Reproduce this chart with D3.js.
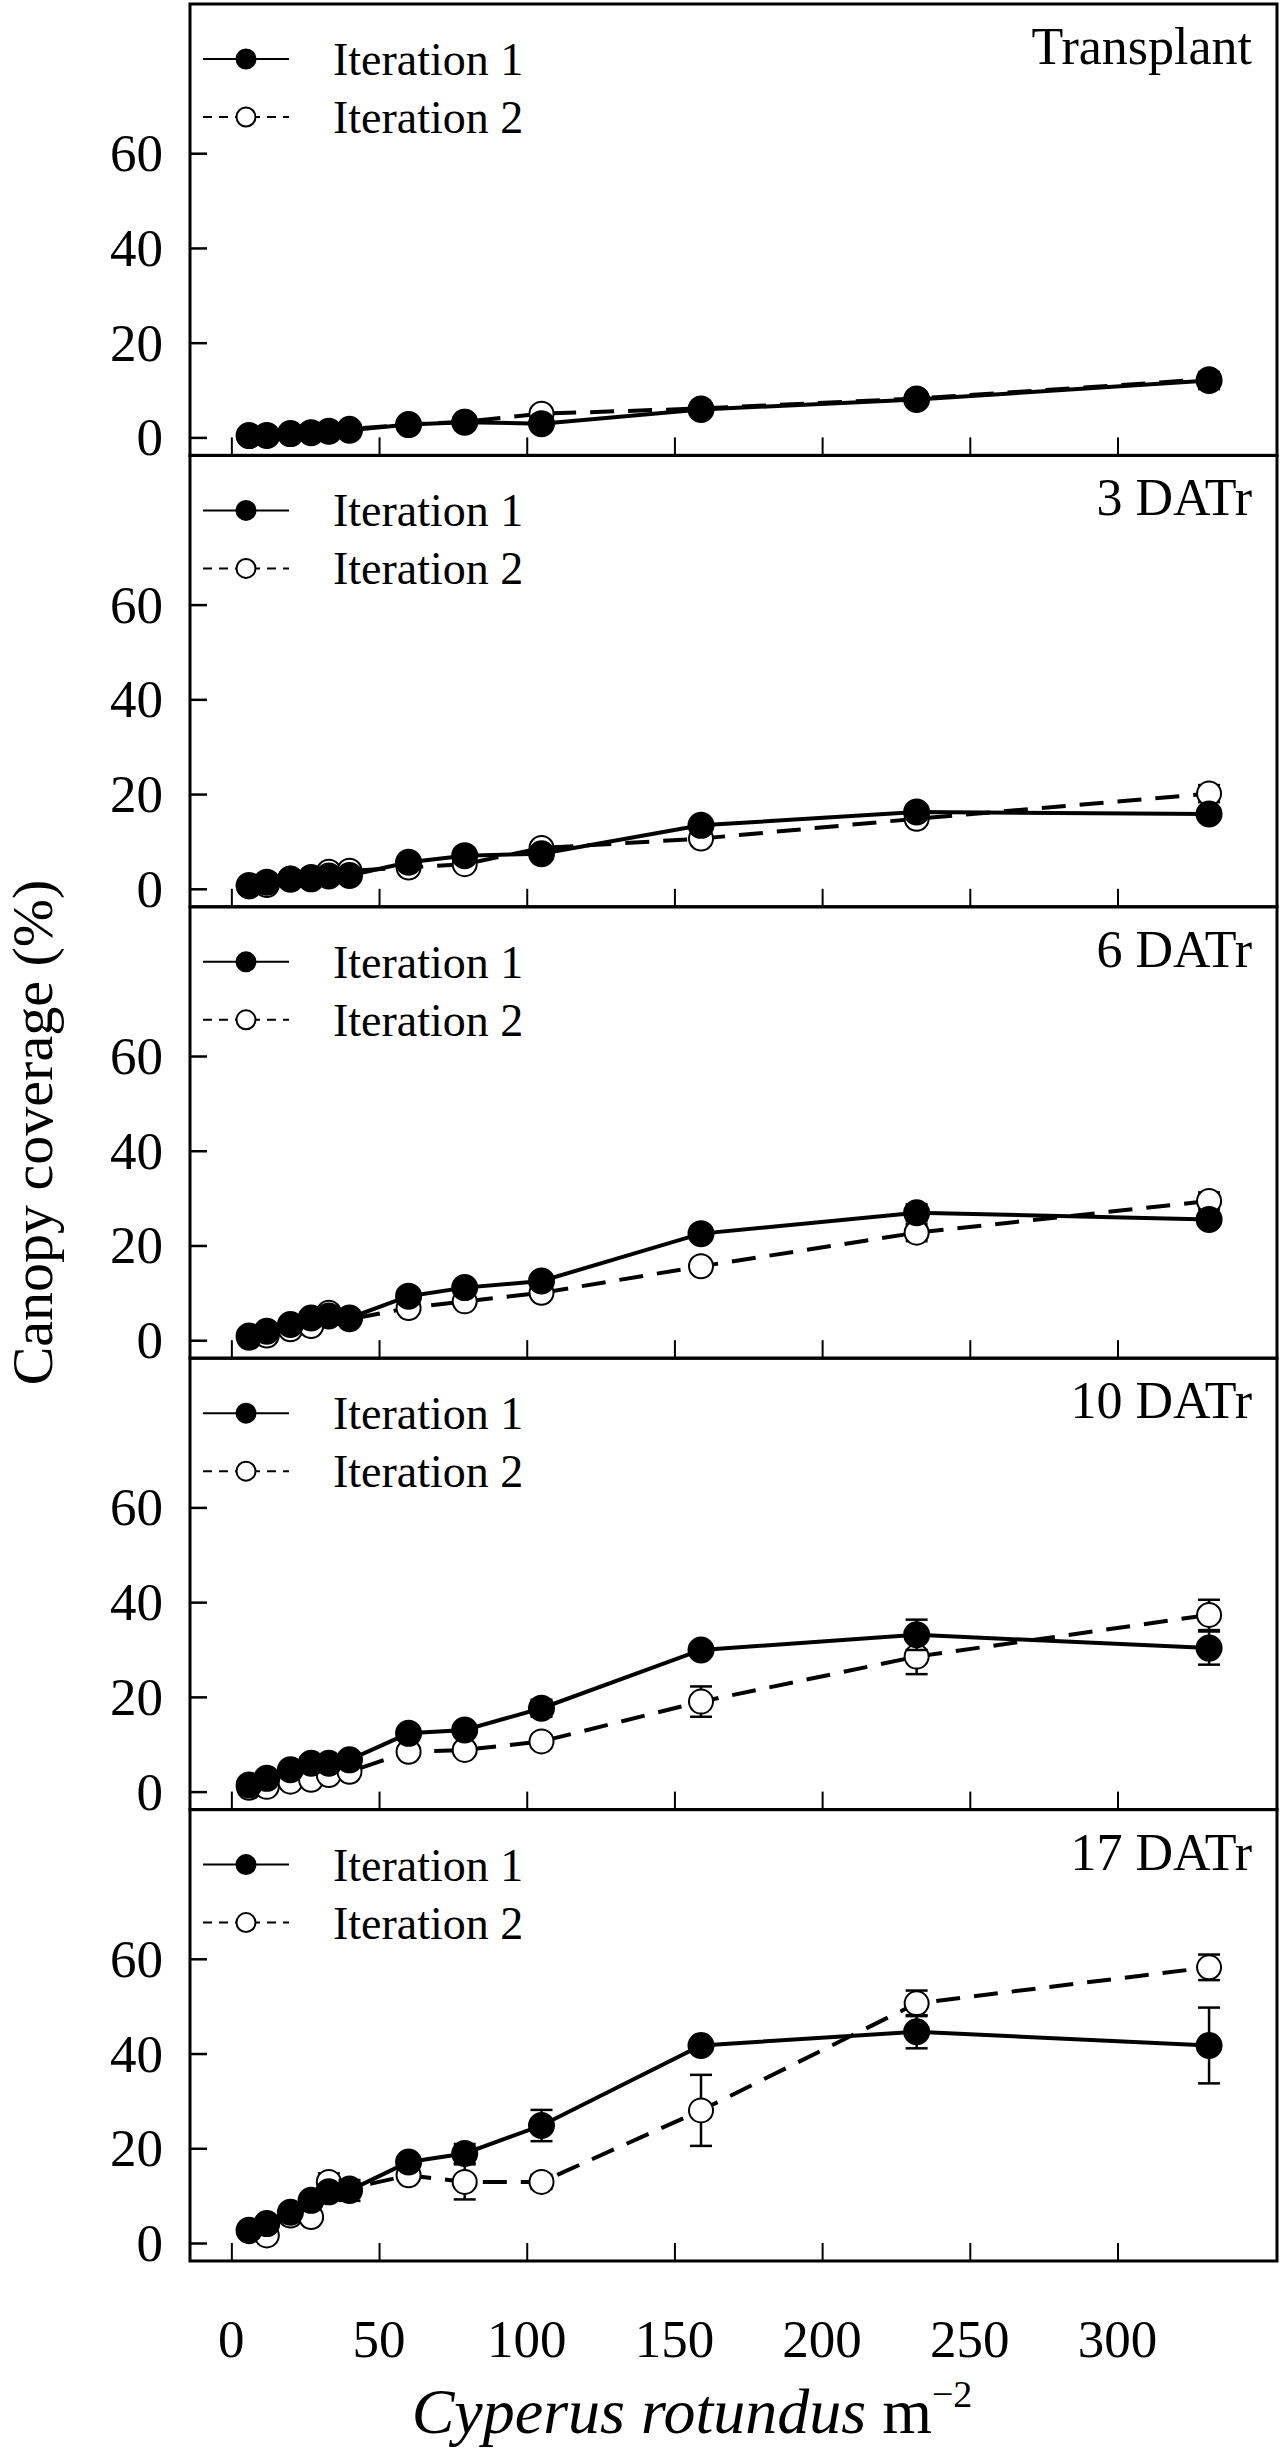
<!DOCTYPE html>
<html>
<head>
<meta charset="utf-8">
<style>
body { margin: 0; background: #fff; }
svg text { font-family: 'Liberation Serif', 'Times New Roman', serif; fill: #000; }
</style>
</head>
<body>
<svg font-family="Liberation Serif, Times New Roman, serif"></svg>
<script src="https://cdnjs.cloudflare.com/ajax/libs/d3/7.8.5/d3.min.js"></script>
<script>

// weed density (plants m-2), same for both iterations
const density = [6, 12, 20, 27, 33, 40, 60, 79, 105, 159, 232, 331];

const panelLabels = ['Transplant', '3 DATr', '6 DATr', '10 DATr', '17 DATr'];
const seriesLabels = ['Iteration 1', 'Iteration 2'];

const xTicks = [0, 50, 100, 150, 200, 250, 300];
const yTicks = [0, 20, 40, 60];

// canopy coverage (%) means and standard errors, one row per panel
const iter1 = [
    [0.4, 0.4, 0.8, 1.0, 1.3, 1.5, 2.7, 3.2, 2.9, 5.9, 8.0, 12.0],
    [0.7, 1.4, 2.0, 2.1, 2.7, 2.8, 5.6, 7.0, 7.4, 13.4, 16.2, 15.8],
    [0.9, 1.9, 3.3, 4.7, 5.1, 4.7, 9.3, 11.1, 12.5, 22.5, 26.9, 25.5],
    [1.4, 2.8, 4.6, 6.0, 6.0, 6.7, 12.3, 13.0, 17.6, 29.9, 33.1, 30.3],
    [2.7, 4.1, 6.5, 9.0, 10.8, 11.1, 17.1, 18.9, 24.8, 41.7, 44.6, 41.7],
];
const iter1Err = [
    [0.2, 0.2, 0.2, 0.2, 0.2, 0.3, 0.4, 0.4, 0.5, 0.6, 0.8, 1.8],
    [0.3, 0.3, 0.3, 0.3, 0.3, 0.3, 0.5, 0.5, 0.8, 0.8, 0.8, 0.8],
    [0.3, 0.3, 0.4, 0.5, 0.5, 0.5, 0.8, 0.8, 1.0, 1.4, 1.8, 1.2],
    [0.3, 0.4, 0.5, 0.5, 0.5, 0.6, 0.8, 0.8, 1.8, 1.2, 3.2, 3.5],
    [0.4, 0.5, 0.8, 1.0, 1.0, 2.2, 1.0, 2.0, 3.3, 1.2, 3.5, 8.0],
];
const iter2 = [
    [0.3, 0.4, 0.7, 1.0, 1.3, 1.8, 2.7, 3.3, 5.0, 6.1, 8.2, 12.3],
    [0.5, 0.8, 2.2, 2.5, 3.6, 3.8, 4.5, 5.2, 8.6, 10.6, 14.8, 20.1],
    [0.5, 1.0, 2.3, 3.0, 5.8, 4.4, 6.8, 8.2, 10.0, 15.6, 22.7, 29.4],
    [0.8, 1.0, 2.1, 2.5, 3.5, 4.2, 8.4, 8.8, 10.6, 19.0, 28.5, 37.3],
    [2.5, 1.6, 5.8, 5.5, 12.9, 11.5, 14.3, 12.9, 12.9, 28.0, 50.6, 58.2],
];
const iter2Err = [
    [0.2, 0.2, 0.2, 0.2, 0.2, 0.3, 0.4, 0.4, 1.0, 0.6, 0.8, 1.0],
    [0.3, 0.3, 0.4, 0.4, 0.5, 0.5, 0.5, 0.6, 0.8, 1.2, 1.2, 1.8],
    [0.3, 0.3, 0.4, 0.5, 0.5, 0.5, 0.8, 1.0, 1.0, 1.2, 1.8, 1.8],
    [0.3, 0.3, 0.4, 0.4, 0.5, 0.5, 0.8, 1.0, 1.2, 3.2, 3.7, 3.2],
    [0.3, 0.4, 1.0, 1.0, 1.8, 1.2, 1.0, 3.7, 1.5, 7.5, 2.7, 2.7],
];

const width = 1281;
const height = 2452;
const plotLeft = 190;
const plotRight = 1277;
const plotTop = 4;
const panelH = 451.4;

const svg = d3.select('svg')
    .attr('width', width)
    .attr('height', height);

const x = d3.scaleLinear()
    .domain([-14, 354])
    .range([plotLeft, plotRight]);

const y = d3.scaleLinear()
    .domain([-3.8, 91.5])
    .range([panelH, 0]);

const line = d3.line()
    .x(d => x(d.x))
    .y(d => y(d.y));

function drawSeries(g, values, errs, filled) {
    const pts = density.map((d, i) => ({x: d, y: values[i], e: errs[i]}));
    const s = g.append('g');

    s.append('path')
        .datum(pts)
        .attr('fill', 'none')
        .attr('stroke', '#000')
        .attr('stroke-width', 4)
        .attr('stroke-dasharray', filled ? null : '24,14')
        .attr('d', line);

    const bars = s.selectAll('.err').data(pts).enter().append('g')
        .attr('class', 'err')
        .attr('stroke', '#000')
        .attr('stroke-width', 2.5);
    bars.append('line')
        .attr('x1', d => x(d.x)).attr('x2', d => x(d.x))
        .attr('y1', d => y(d.y - d.e)).attr('y2', d => y(d.y + d.e));
    bars.append('line')
        .attr('x1', d => x(d.x) - 11).attr('x2', d => x(d.x) + 11)
        .attr('y1', d => y(d.y + d.e)).attr('y2', d => y(d.y + d.e));
    bars.append('line')
        .attr('x1', d => x(d.x) - 11).attr('x2', d => x(d.x) + 11)
        .attr('y1', d => y(d.y - d.e)).attr('y2', d => y(d.y - d.e));

    s.selectAll('circle').data(pts).enter().append('circle')
        .attr('cx', d => x(d.x))
        .attr('cy', d => y(d.y))
        .attr('r', filled ? 12.5 : 12)
        .attr('fill', filled ? '#000' : '#fff')
        .attr('stroke', '#000')
        .attr('stroke-width', 2);
}

panelLabels.forEach((label, p) => {
    const g = svg.append('g')
        .attr('transform', `translate(0, ${plotTop + p * panelH})`);

    // y axis, ticks pointing inward
    const yAxis = g.append('g')
        .attr('transform', `translate(${plotLeft}, 0)`)
        .call(d3.axisRight(y).tickValues(yTicks).tickSize(17).tickFormat(''));
    yAxis.select('.domain').remove();
    yAxis.selectAll('line').attr('stroke-width', 2.5);

    g.selectAll('.ylab').data(yTicks).enter().append('text')
        .attr('class', 'ylab')
        .attr('x', plotLeft - 27)
        .attr('y', d => y(d) + 18)
        .attr('text-anchor', 'end')
        .style('font-size', '53px')
        .text(d => d);

    // x ticks along the bottom of every panel, pointing inward
    const xAxis = g.append('g')
        .attr('transform', `translate(0, ${panelH})`)
        .call(d3.axisTop(x).tickValues(xTicks).tickSize(18).tickFormat(''));
    xAxis.select('.domain').remove();
    xAxis.selectAll('line').attr('stroke-width', 2);

    drawSeries(g, iter2[p], iter2Err[p], false);
    drawSeries(g, iter1[p], iter1Err[p], true);

    g.append('rect')
        .attr('x', plotLeft)
        .attr('y', 0)
        .attr('width', plotRight - plotLeft)
        .attr('height', panelH)
        .attr('fill', 'none')
        .attr('stroke', '#000')
        .attr('stroke-width', 3);

    g.append('text')
        .attr('x', 1252)
        .attr('y', 60)
        .attr('text-anchor', 'end')
        .style('font-size', '52px')
        .text(label);

    // legend
    const legend = g.append('g');
    seriesLabels.forEach((name, i) => {
        const ly = 55 + i * 58;
        legend.append('line')
            .attr('x1', 203).attr('x2', 289)
            .attr('y1', ly).attr('y2', ly)
            .attr('stroke', '#000')
            .attr('stroke-width', 2)
            .attr('stroke-dasharray', i === 0 ? null : '9,7');
        legend.append('circle')
            .attr('cx', 246).attr('cy', ly)
            .attr('r', 9.5)
            .attr('fill', i === 0 ? '#000' : '#fff')
            .attr('stroke', '#000')
            .attr('stroke-width', 2);
        legend.append('text')
            .attr('x', 333)
            .attr('y', ly + 16)
            .style('font-size', '46px')
            .text(name);
    });
});

const bottom = plotTop + panelLabels.length * panelH;

svg.append('g').selectAll('text').data(xTicks).enter().append('text')
    .attr('x', d => x(d))
    .attr('y', bottom + 96)
    .attr('text-anchor', 'middle')
    .style('font-size', '53px')
    .text(d => d);

const xTitle = svg.append('text')
    .attr('x', 692)
    .attr('y', 2433)
    .attr('text-anchor', 'middle')
    .style('font-size', '64px');
xTitle.append('tspan').style('font-style', 'italic').text('Cyperus rotundus');
xTitle.append('tspan').text(' m');
xTitle.append('tspan')
    .attr('dy', -26)
    .style('font-size', '38px')
    .text('\u22122');

svg.append('text')
    .attr('transform', `translate(52, ${(plotTop + bottom) / 2}) rotate(-90)`)
    .attr('text-anchor', 'middle')
    .style('font-size', '58px')
    .text('Canopy coverage (%)');

</script>
</body>
</html>
